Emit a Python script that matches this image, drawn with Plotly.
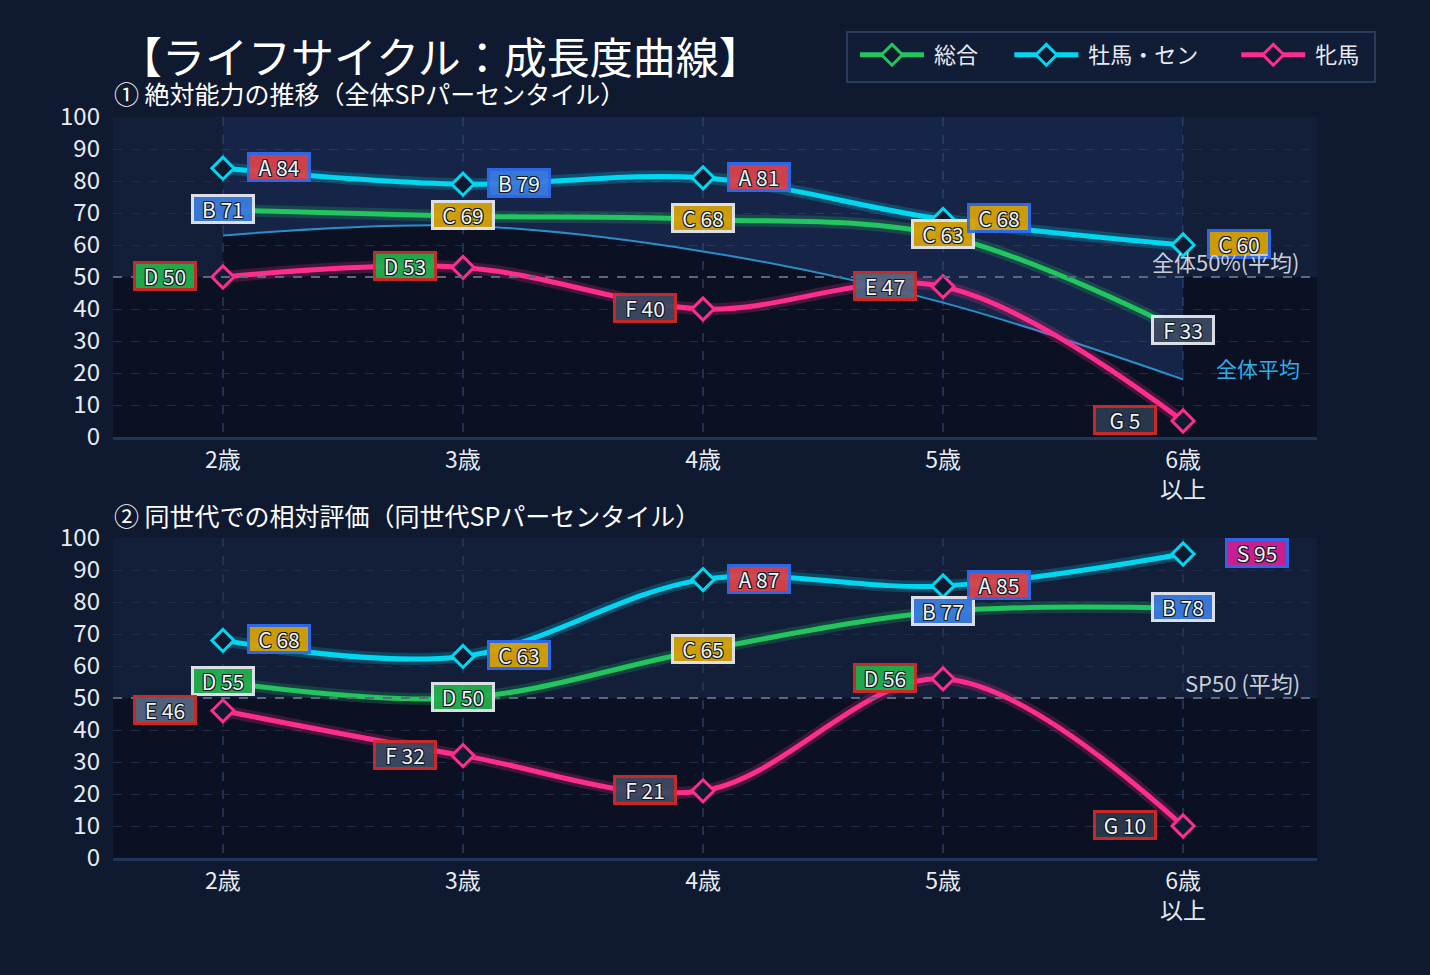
import plotly.graph_objects as go

# ---------------- data ----------------
AGES = ["2歳", "3歳", "4歳", "5歳", "6歳<br>以上"]
SERIES = ["総合", "牡馬・セン", "牝馬"]

abs_total = [71, 69, 68, 63, 33]
abs_male = [84, 79, 81, 68, 60]
abs_female = [50, 53, 40, 47, 5]
abs_avg = [63, 66, 58, 42, 18]

abs_total_grade = ["B", "C", "C", "C", "F"]
abs_male_grade = ["A", "B", "A", "C", "C"]
abs_female_grade = ["D", "D", "F", "E", "G"]

rel_total = [55, 50, 65, 77, 78]
rel_male = [68, 63, 87, 85, 95]
rel_female = [46, 32, 21, 56, 10]

rel_total_grade = ["D", "D", "C", "B", "B"]
rel_male_grade = ["C", "C", "A", "A", "S"]
rel_female_grade = ["E", "F", "F", "D", "G"]

Y_TICKS = [0, 10, 20, 30, 40, 50, 60, 70, 80, 90, 100]

# ---------------- style ----------------
FONT = "Noto Sans CJK JP"
PAPER = "#0f1a30"
PLOT_DARK = "#0b1122"
BAND = "#131e39"
TXT = "#e8ecf2"
COLORS = {"総合": "#22c55e", "牡馬・セン": "#00d8f2", "牝馬": "#ff2d8d"}
GLOW = {"総合": "rgba(34,197,94,0.22)", "牡馬・セン": "rgba(0,216,242,0.22)", "牝馬": "rgba(255,45,141,0.22)"}
BORDER = {"総合": "#e6e9ef", "牡馬・セン": "#2f6bef", "牝馬": "#d42a2a"}
GRADE_BG = {"S": "#d21f96", "A": "#d9434b", "B": "#3a7be0", "C": "#d6a208",
            "D": "#22b04f", "E": "#56667f", "F": "#3c4961", "G": "#2b3a50"}
LEGEND_PAD = {"総合": "\u3000\u2009", "牡馬・セン": "\u3000\u2002", "牝馬": ""}
XR = [-0.458, 4.558]
XDOM = [113 / 1430, 1317 / 1430]
YDOM1 = [1 - 437 / 975, 1 - 117 / 975]
YDOM2 = [1 - 858 / 975, 1 - 538 / 975]

fig = go.Figure()

panels = [
    ("x", "y", [abs_total, abs_male, abs_female], [abs_total_grade, abs_male_grade, abs_female_grade]),
    ("x2", "y2", [rel_total, rel_male, rel_female], [rel_total_grade, rel_male_grade, rel_female_grade]),
]

# average line + fill on top panel
fig.add_trace(go.Scatter(x=AGES, y=abs_avg, mode="lines", line=dict(color="#2a8fc8", width=2, shape="spline"),
                         xaxis="x", yaxis="y", showlegend=False, hoverinfo="skip"))
fig.add_trace(go.Scatter(x=AGES, y=[Y_TICKS[-1]] * len(AGES), mode="lines", line=dict(width=0),
                         fill="tonexty", fillcolor="rgba(45,80,150,0.33)",
                         xaxis="x", yaxis="y", showlegend=False, hoverinfo="skip"))

annotations = []
shapes = []

for pi, (xa, ya, vals, grades) in enumerate(panels):
    for si, name in enumerate(SERIES):
        fig.add_trace(go.Scatter(x=AGES, y=vals[si], mode="lines",
                                 line=dict(color=GLOW[name], width=12, shape="spline"),
                                 xaxis=xa, yaxis=ya, showlegend=False, hoverinfo="skip"))
    for si, name in enumerate(SERIES):
        fig.add_trace(go.Scatter(x=AGES, y=vals[si], mode="lines+markers",
                                 name=" " + name + LEGEND_PAD[name],
                                 line=dict(color=COLORS[name], width=5, shape="spline"),
                                 marker=dict(symbol="diamond", size=17, color=PAPER,
                                             line=dict(color=COLORS[name], width=3)),
                                 cliponaxis=False,
                                 xaxis=xa, yaxis=ya, showlegend=(pi == 0), legendgroup=name,
                                 hoverinfo="skip"))
    # labels
    for si, name in enumerate(SERIES):
        for i, age in enumerate(AGES):
            v = vals[si][i]
            g = grades[si][i]
            if si == 0:
                xs = 0
            elif si == 1:
                xs = 74 if g == "S" else 56
            else:
                xs = -58
            annotations.append(dict(
                x=age, y=v, xref=xa, yref=ya, text=f"{g} {v}", showarrow=False,
                xshift=xs, yshift=1, width=58, height=24, borderpad=0, borderwidth=3,
                bgcolor=GRADE_BG[g], bordercolor=BORDER[name], opacity=0.95,
                font=dict(family=FONT, size=21, color="#ffffff",
                          shadow="1px 1px 0 #111827, -1px -1px 0 #111827, 1px -1px 0 #111827, -1px 1px 0 #111827"),
                xanchor="center", yanchor="middle"))

    yr = ya
    xr = xa
    # upper band
    if pi == 0:
        shapes.append(dict(type="rect", xref=xr, yref=yr, x0=XR[0], x1=0, y0=50, y1=100,
                           fillcolor=BAND, line=dict(width=0), layer="below"))
        shapes.append(dict(type="rect", xref=xr, yref=yr, x0=len(AGES) - 1, x1=XR[1], y0=50, y1=100,
                           fillcolor=BAND, line=dict(width=0), layer="below"))
    else:
        shapes.append(dict(type="rect", xref=xr, yref=yr, x0=XR[0], x1=XR[1], y0=50, y1=100,
                           fillcolor=BAND, line=dict(width=0), layer="below"))
    shapes.append(dict(type="line", xref=xr + " domain", yref=yr, x0=0, x1=1, y0=50, y1=50,
                       line=dict(color="#5d6880", width=2, dash="dash"), layer="above"))

# legend box
shapes.append(dict(type="rect", xref="paper", yref="paper", x0=847 / 1430, x1=1375 / 1430,
                   y0=1 - 82 / 975, y1=1 - 32 / 975, fillcolor="#111d36",
                   line=dict(color="#2b3b5c", width=2), layer="below"))

# text annotations on right
annotations.append(dict(xref="x domain", yref="y", x=0.9875, y=50, text="全体50%(平均)", showarrow=False,
                        xanchor="right", yanchor="bottom", yshift=-2,
                        font=dict(family=FONT, size=22, color="#c9ced8")))
annotations.append(dict(xref="x domain", yref="y", x=0.9875, y=abs_avg[-1], text="全体平均", showarrow=False,
                        xanchor="right", yanchor="middle", yshift=11,
                        font=dict(family=FONT, size=21, color="#2eaee8")))
annotations.append(dict(xref="x2 domain", yref="y2", x=0.9875, y=50, text="SP50 (平均)", showarrow=False,
                        xanchor="right", yanchor="bottom", yshift=-2,
                        font=dict(family=FONT, size=22, color="#c9ced8")))

# titles
annotations.append(dict(xref="paper", yref="paper", x=117 / 1430, y=1 - 55 / 975, text="【ライフサイクル：成長度曲線】",
                        showarrow=False, xanchor="left", yanchor="middle",
                        font=dict(family=FONT, size=43, color="#ffffff")))
annotations.append(dict(xref="paper", yref="paper", x=112 / 1430, y=1 - 93 / 975,
                        text="① 絶対能力の推移（全体SPパーセンタイル）",
                        showarrow=False, xanchor="left", yanchor="middle",
                        font=dict(family=FONT, size=25, color="#ffffff")))
annotations.append(dict(xref="paper", yref="paper", x=112 / 1430, y=1 - 515 / 975,
                        text="② 同世代での相対評価（同世代SPパーセンタイル）",
                        showarrow=False, xanchor="left", yanchor="middle",
                        font=dict(family=FONT, size=25, color="#ffffff")))

xaxis_common = dict(type="category", range=XR, showgrid=True, gridcolor="#1f3050", gridwidth=2,
                    griddash="dash", showline=True, linecolor="#22345a", linewidth=3, ticks="",
                    tickfont=dict(family=FONT, size=23, color=TXT), zeroline=False, automargin=False,
                    fixedrange=True)
yaxis_common = dict(range=[0, 100], tickvals=Y_TICKS, showgrid=True, gridcolor="#1e2d4b", gridwidth=1,
                    griddash="dash", showline=False, zeroline=False, ticks="", ticklabelstandoff=12,
                    tickfont=dict(family=FONT, size=24, color=TXT), automargin=False, fixedrange=True)

fig.update_layout(
    width=1430, height=975,
    margin=dict(l=0, r=0, t=0, b=0),
    paper_bgcolor=PAPER, plot_bgcolor=PLOT_DARK,
    font=dict(family=FONT, color=TXT),
    xaxis=dict(domain=XDOM, anchor="y", **xaxis_common),
    yaxis=dict(domain=YDOM1, anchor="x", **yaxis_common),
    xaxis2=dict(domain=XDOM, anchor="y2", **xaxis_common),
    yaxis2=dict(domain=YDOM2, anchor="x2", **yaxis_common),
    legend=dict(orientation="h", x=855 / 1430, y=1 - 55 / 975, xanchor="left", yanchor="middle",
                bgcolor="rgba(0,0,0,0)", borderwidth=0,
                font=dict(family=FONT, size=22, color=TXT), itemwidth=64),
    annotations=annotations,
    shapes=shapes,
    showlegend=True,
)

fig.write_html("out.html")
